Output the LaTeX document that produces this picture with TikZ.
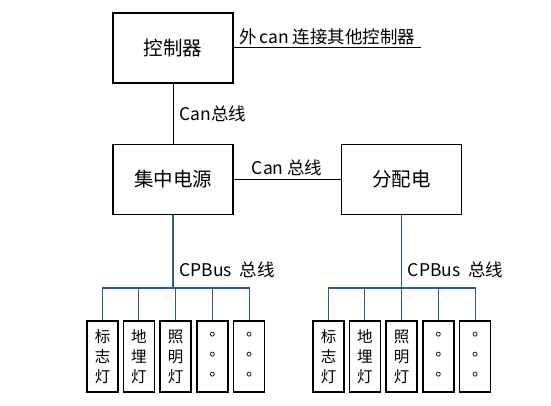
\documentclass[tikz,border=0pt]{standalone}
\usepackage{fontspec}
\setmainfont{Noto Sans CJK SC}
\newfontfamily\dotfont{Noto Sans CJK TC}
\usetikzlibrary{positioning}
\definecolor{busblue}{RGB}{46,88,150}

\begin{document}
\begin{tikzpicture}[x=1pt, y=1pt]
\tikzstyle{unit}=[rectangle, draw=black, line width=1.3pt, minimum width=120pt, minimum height=70pt, font=\fontsize{19.5}{22}\selectfont]
\tikzstyle{lamp}=[rectangle, draw=black, line width=1.3pt, minimum width=31pt, minimum height=71pt, inner sep=0pt, align=center, font=\fontsize{15.5}{20}\selectfont]
\tikzstyle{can}=[line width=1pt]
\tikzstyle{bus}=[line width=1.2pt, draw=busblue]
\tikzstyle{tag}=[font=\fontsize{17.5}{20}\selectfont, inner sep=2pt]
\useasboundingbox (0,0) rectangle (551,-406);
\node[unit] (ctrl) at (173,-48) {控制器};
\node[unit] (supply) [below=60pt of ctrl] {集中电源};
\node[unit] (dist) [right=107pt of supply] {分配电};
\coordinate[right=187pt of ctrl.east] (ext);
\coordinate[below=73pt of supply.south] (hubA);
\coordinate[below=73pt of dist.south] (hubB);
% lamps under the central supply
\node[lamp] (la1) at (102.5,-356.5) {标\\志\\灯};
\node[lamp] (la2) [right=4pt of la1] {地\\埋\\灯};
\node[lamp] (la3) [right=4.5pt of la2] {照\\明\\灯};
\node[lamp] (la4) [right=4.5pt of la3] {\dotfont 。\\\dotfont 。\\\dotfont 。};
\node[lamp] (la5) [right=4.5pt of la4] {\dotfont 。\\\dotfont 。\\\dotfont 。};
% lamps under the distribution box
\node[lamp] (lb1) at (328.5,-356.5) {标\\志\\灯};
\node[lamp] (lb2) [right=4pt of lb1] {地\\埋\\灯};
\node[lamp] (lb3) [right=4.5pt of lb2] {照\\明\\灯};
\node[lamp] (lb4) [right=4.5pt of lb3] {\dotfont 。\\\dotfont 。\\\dotfont 。};
\node[lamp] (lb5) [right=4.5pt of lb4] {\dotfont 。\\\dotfont 。\\\dotfont 。};
\draw[can] (ctrl.east) -- (ext) node[tag, midway, above=1pt] {外\,can 连接其他控制器};
\draw[can] (ctrl) -- (supply) node[tag, midway, right=4pt] {Can总线};
\draw[can] (supply) -- (dist) node[tag, midway, above=1pt] {Can 总线};
\draw[bus] (supply) -- (hubA) node[tag, pos=0.75, right=4pt] {CPBus\ \ 总线};
\draw[bus] (dist) -- (hubB) node[tag, pos=0.75, right=4pt] {CPBus\ \ 总线};
\foreach \i in {1,...,5}
{
  \draw[bus] (hubA) -| (la\i.north);
  \draw[bus] (hubB) -| (lb\i.north);
}
\end{tikzpicture}
\end{document}
